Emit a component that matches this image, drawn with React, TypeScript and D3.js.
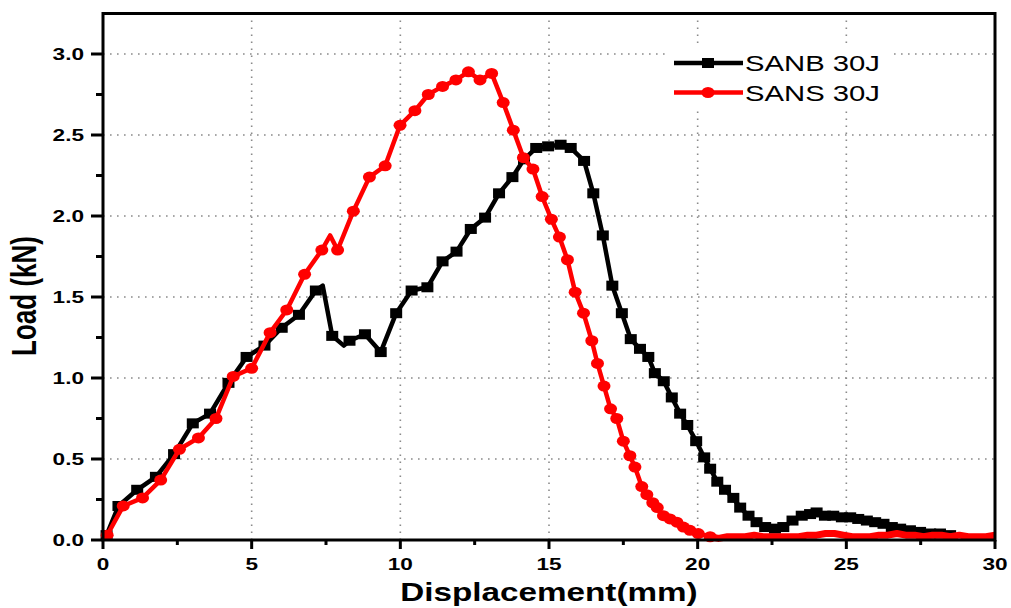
import React from "react";
import * as d3 from "d3";

// ---- data ----
const sanbX = [0.12,0.52,1.15,1.78,2.39,3.02,3.6,4.22,4.83,5.43,6.01,6.59,7.16,7.71,8.29,8.81,9.34,9.86,10.38,10.91,11.42,11.89,12.37,12.85,13.32,13.77,14.16,14.57,14.97,15.39,15.73,16.18,16.49,16.81,17.13,17.45,17.75,18.06,18.34,18.56,18.86,19.13,19.41,19.65,19.95,20.22,20.42,20.66,20.92,21.2,21.43,21.71,21.98,22.27,22.6,22.88,23.19,23.5,23.78,24.0,24.28,24.56,24.85,25.13,25.4,25.69,25.97,26.25,26.53,26.81,27.14,27.48,27.82,28.15,28.49];
const sanbY = [0.03,0.21,0.31,0.39,0.53,0.72,0.78,0.97,1.13,1.2,1.31,1.39,1.54,1.26,1.23,1.27,1.16,1.4,1.54,1.56,1.72,1.78,1.92,1.99,2.14,2.24,2.35,2.42,2.43,2.44,2.42,2.34,2.14,1.88,1.57,1.4,1.24,1.18,1.13,1.03,0.98,0.88,0.78,0.71,0.61,0.51,0.44,0.36,0.31,0.26,0.2,0.15,0.11,0.08,0.07,0.08,0.12,0.15,0.16,0.17,0.15,0.15,0.14,0.14,0.13,0.12,0.11,0.1,0.08,0.07,0.06,0.05,0.04,0.04,0.03];
// points on the SANB line without a marker
const sanbLineX = [0.05,7.39,8.1,28.8,29.2,29.6,30.0];
const sanbLineY = [0.0,1.57,1.2,0.03,0.02,0.02,0.02];

const sansX = [0.14,0.68,1.33,1.94,2.57,3.21,3.8,4.38,5.0,5.62,6.18,6.78,7.36,7.89,8.42,8.96,9.49,9.99,10.49,10.94,11.42,11.87,12.29,12.68,13.07,13.46,13.8,14.14,14.46,14.77,15.08,15.35,15.62,15.88,16.16,16.44,16.63,16.85,17.07,17.28,17.5,17.72,17.89,18.12,18.29,18.49,18.64,18.85,19.07,19.3,19.52,19.74,20.02,20.42];
const sansY = [0.03,0.21,0.26,0.37,0.56,0.63,0.75,1.01,1.06,1.28,1.42,1.64,1.79,1.79,2.03,2.24,2.31,2.56,2.65,2.75,2.8,2.84,2.89,2.84,2.88,2.7,2.53,2.36,2.29,2.12,1.98,1.87,1.73,1.53,1.4,1.23,1.09,0.95,0.81,0.75,0.61,0.52,0.45,0.33,0.28,0.23,0.2,0.15,0.13,0.11,0.08,0.06,0.04,0.02];
const sansLineX = [0.08,7.64];
const sansLineY = [0.0,1.88];
// dense SANS tail drawn as a heavy line
const sansTailX = [20.42,20.7,21.0,21.3,21.6,21.9,22.2,22.5,22.8,23.1,23.4,23.7,24.0,24.3,24.6,24.9,25.2,25.5,25.8,26.1,26.4,26.7,27.0,27.3,27.6,27.9,28.2,28.5,28.8,29.1,29.4,29.7,30.0];
const sansTailY = [0.02,0.01,0.02,0.02,0.02,0.03,0.02,0.02,0.02,0.02,0.02,0.03,0.03,0.04,0.04,0.03,0.02,0.02,0.02,0.03,0.03,0.04,0.03,0.03,0.02,0.03,0.03,0.02,0.03,0.02,0.02,0.02,0.03];

const xMajor = [0,5,10,15,20,25,30];
const xMinor = [2.5,7.5,12.5,17.5,22.5,27.5];
const yMajor = [0,0.5,1.0,1.5,2.0,2.5,3.0];
const yMinor = [0.25,0.75,1.25,1.75,2.25,2.75];
const seriesNames = ["SANB 30J","SANS 30J"];
const seriesColors = ["#000000","#ff0000"];

const FONT = "'Liberation Sans', Arial, Helvetica, sans-serif";
const SX = 1.33;

export default function App() {
  const x = d3.scaleLinear().domain([0, 30]).range([103, 995]);
  const y = d3.scaleLinear().domain([0, 3.25]).range([540, 13.5]);
  const line = d3.line<[number, number]>().x(d => x(d[0])).y(d => y(d[1]));

  const merge = (ax: number[], ay: number[], bx: number[], by: number[]) => {
    const pts: [number, number][] = ax.map((v, i) => [v, ay[i]] as [number, number]);
    bx.forEach((v, i) => pts.push([v, by[i]]));
    pts.sort((a, b) => a[0] - b[0]);
    return pts;
  };
  const sanbPath = line(merge(sanbX, sanbY, sanbLineX, sanbLineY)) || "";
  const sansPath = line(merge(sansX, sansY, sansLineX, sansLineY)) || "";
  const tailPath = line(sansTailX.map((v, i) => [v, sansTailY[i]] as [number, number])) || "";

  const x0 = x(0), x1 = x(30), y0 = y(0), y1 = y(3.25);

  const txt = (tx: number, ty: number, s: string, opts: any = {}) => (
    <text
      key={`${s}-${tx}-${ty}`}
      transform={`translate(${tx},${ty}) scale(${SX},1)${opts.rotate ? " rotate(-90)" : ""}`}
      textAnchor={opts.anchor || "middle"}
      fontFamily={FONT}
      fontWeight={opts.weight || "bold"}
      fontSize={opts.size || 17}
      fill="#000"
    >
      {s}
    </text>
  );

  return (
    <div style={{ position: "fixed", left: 0, top: 0 }}>
      <svg width={1011} height={608} style={{ display: "block", background: "#fff" }}>
        {/* grid */}
        <g stroke="#8a8a8a" strokeWidth={1.6} strokeDasharray="1.6,5.4">
          {xMajor.filter(v => v > 0 && v < 30).map(v => (
            <line key={"gx" + v} x1={x(v)} x2={x(v)} y1={y0} y2={y1} />
          ))}
          {yMajor.filter(v => v > 0).map(v => (
            <line key={"gy" + v} x1={x0} x2={x1} y1={y(v)} y2={y(v)} />
          ))}
        </g>

        {/* series */}
        <path d={sanbPath} fill="none" stroke={seriesColors[0]} strokeWidth={4.5} strokeLinejoin="round" />
        {sanbX.map((v, i) => (
          <rect key={"s" + i} x={x(v) - 6} y={y(sanbY[i]) - 5} width={12} height={10} fill={seriesColors[0]} />
        ))}
        <path d={tailPath} fill="none" stroke={seriesColors[1]} strokeWidth={7} strokeLinejoin="round" />
        <path d={sansPath} fill="none" stroke={seriesColors[1]} strokeWidth={4.5} strokeLinejoin="round" />
        {sansX.map((v, i) => (
          <ellipse key={"c" + i} cx={x(v)} cy={y(sansY[i])} rx={6.5} ry={5.5} fill={seriesColors[1]} />
        ))}

        {/* frame */}
        <rect x={x0} y={y1} width={x1 - x0} height={y0 - y1} fill="none" stroke="#000" strokeWidth={3} />

        {/* ticks */}
        <g stroke="#000" strokeWidth={3}>
          {xMajor.map(v => <line key={"tx" + v} x1={x(v)} x2={x(v)} y1={y0} y2={y0 + 9} />)}
          {xMinor.map(v => <line key={"tmx" + v} x1={x(v)} x2={x(v)} y1={y0} y2={y0 + 5} />)}
          {yMajor.map(v => <line key={"ty" + v} x1={x0} x2={x0 - 12} y1={y(v)} y2={y(v)} />)}
          {yMinor.map(v => <line key={"tmy" + v} x1={x0} x2={x0 - 7} y1={y(v)} y2={y(v)} />)}
        </g>

        {/* tick labels */}
        {xMajor.map(v => txt(x(v), 569.5, d3.format("d")(v)))}
        {yMajor.map(v => txt(84, y(v) + 6, d3.format(".1f")(v), { anchor: "end" }))}

        {/* axis titles */}
        {txt(549, 601, "Displacement(mm)", { size: 25 })}
        {txt(36, 296, "Load (kN)", { size: 26, rotate: true })}

        {/* legend */}
        <rect x={668} y={45} width={225} height={63} fill="#fff" />
        {seriesNames.map((name, i) => {
          const ly = i === 0 ? 63 : 92.5;
          return (
            <g key={name}>
              <line x1={674} x2={743} y1={ly} y2={ly} stroke={seriesColors[i]} strokeWidth={4.5} />
              {i === 0 ? (
                <rect x={708 - 6} y={ly - 5} width={12} height={10} fill={seriesColors[i]} />
              ) : (
                <ellipse cx={708} cy={ly} rx={6.5} ry={5.5} fill={seriesColors[i]} />
              )}
              {txt(745, ly + 8, name, { anchor: "start", weight: "normal", size: 22 })}
            </g>
          );
        })}
      </svg>
    </div>
  );
}
